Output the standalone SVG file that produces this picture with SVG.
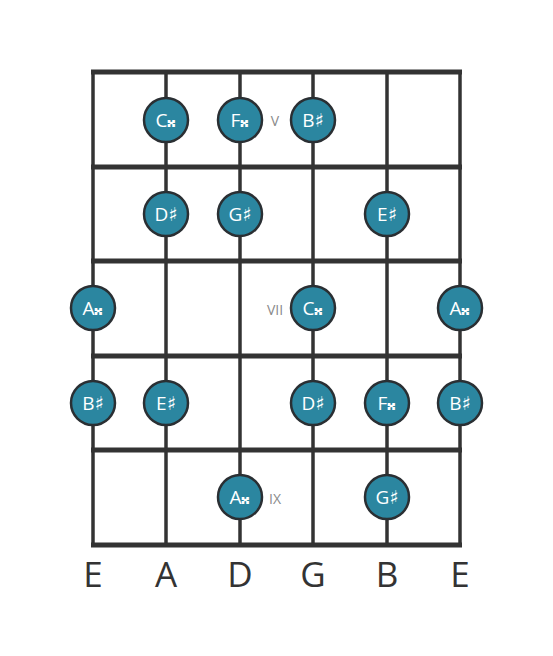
<svg xmlns="http://www.w3.org/2000/svg" width="553" height="656" viewBox="0 0 553 656">
<style>
.str{stroke:#333;stroke-width:3.5;fill:none}
.fret{stroke:#333;stroke-width:5;fill:none}
.note circle{fill:#2b86a0;stroke:#2a2f33;stroke-width:2.5}
.note text{fill:#fff;font-family:"Open Sans","DejaVu Sans",sans-serif;font-size:19px;text-anchor:middle;dominant-baseline:central}
.mark{fill:#8a8a8a;font-family:"Open Sans","DejaVu Sans",sans-serif;font-size:14px;text-anchor:middle;dominant-baseline:central}
.sname{fill:#333;font-family:"Open Sans","DejaVu Sans",sans-serif;font-size:35px;text-anchor:middle;dominant-baseline:central}
</style>
<rect width="553" height="656" fill="#fff"/>
<g id="connectors">
<line class="str" x1="93" y1="72" x2="93" y2="545"/>
<line class="str" x1="166" y1="72" x2="166" y2="545"/>
<line class="str" x1="240" y1="72" x2="240" y2="545"/>
<line class="str" x1="313" y1="72" x2="313" y2="545"/>
<line class="str" x1="387" y1="72" x2="387" y2="545"/>
<line class="str" x1="460" y1="72" x2="460" y2="545"/>
<line class="fret" x1="91" y1="72" x2="462" y2="72"/>
<line class="fret" x1="91" y1="167" x2="462" y2="167"/>
<line class="fret" x1="91" y1="261" x2="462" y2="261"/>
<line class="fret" x1="91" y1="356" x2="462" y2="356"/>
<line class="fret" x1="91" y1="450" x2="462" y2="450"/>
<line class="fret" x1="91" y1="545" x2="462" y2="545"/>
</g>
<g id="markers">
<text class="mark" x="275" y="120">V</text>
<text class="mark" x="275" y="309">VII</text>
<text class="mark" x="275" y="498">IX</text>
</g>
<g id="n1" class="note"><circle cx="166" cy="120" r="22"/><text x="166" y="120">C&#x1D12A;</text></g>
<g id="n2" class="note"><circle cx="240" cy="120" r="22"/><text x="240" y="120">F&#x1D12A;</text></g>
<g id="n3" class="note"><circle cx="313" cy="120" r="22"/><text x="313" y="120">B♯</text></g>
<g id="n4" class="note"><circle cx="166" cy="214" r="22"/><text x="166" y="214">D♯</text></g>
<g id="n5" class="note"><circle cx="240" cy="214" r="22"/><text x="240" y="214">G♯</text></g>
<g id="n6" class="note"><circle cx="387" cy="214" r="22"/><text x="387" y="214">E♯</text></g>
<g id="n7" class="note"><circle cx="93" cy="308" r="22"/><text x="93" y="308">A&#x1D12A;</text></g>
<g id="n8" class="note"><circle cx="313" cy="308" r="22"/><text x="313" y="308">C&#x1D12A;</text></g>
<g id="n9" class="note"><circle cx="460" cy="308" r="22"/><text x="460" y="308">A&#x1D12A;</text></g>
<g id="n10" class="note"><circle cx="93" cy="403" r="22"/><text x="93" y="403">B♯</text></g>
<g id="n11" class="note"><circle cx="166" cy="403" r="22"/><text x="166" y="403">E♯</text></g>
<g id="n12" class="note"><circle cx="313" cy="403" r="22"/><text x="313" y="403">D♯</text></g>
<g id="n13" class="note"><circle cx="387" cy="403" r="22"/><text x="387" y="403">F&#x1D12A;</text></g>
<g id="n14" class="note"><circle cx="460" cy="403" r="22"/><text x="460" y="403">B♯</text></g>
<g id="n15" class="note"><circle cx="240" cy="497" r="22"/><text x="240" y="497">A&#x1D12A;</text></g>
<g id="n16" class="note"><circle cx="387" cy="497" r="22"/><text x="387" y="497">G♯</text></g>
<g id="strings">
<text class="sname" x="93" y="573">E</text>
<text class="sname" x="166" y="573">A</text>
<text class="sname" x="240" y="573">D</text>
<text class="sname" x="313" y="573">G</text>
<text class="sname" x="387" y="573">B</text>
<text class="sname" x="460" y="573">E</text>
</g>
</svg>
